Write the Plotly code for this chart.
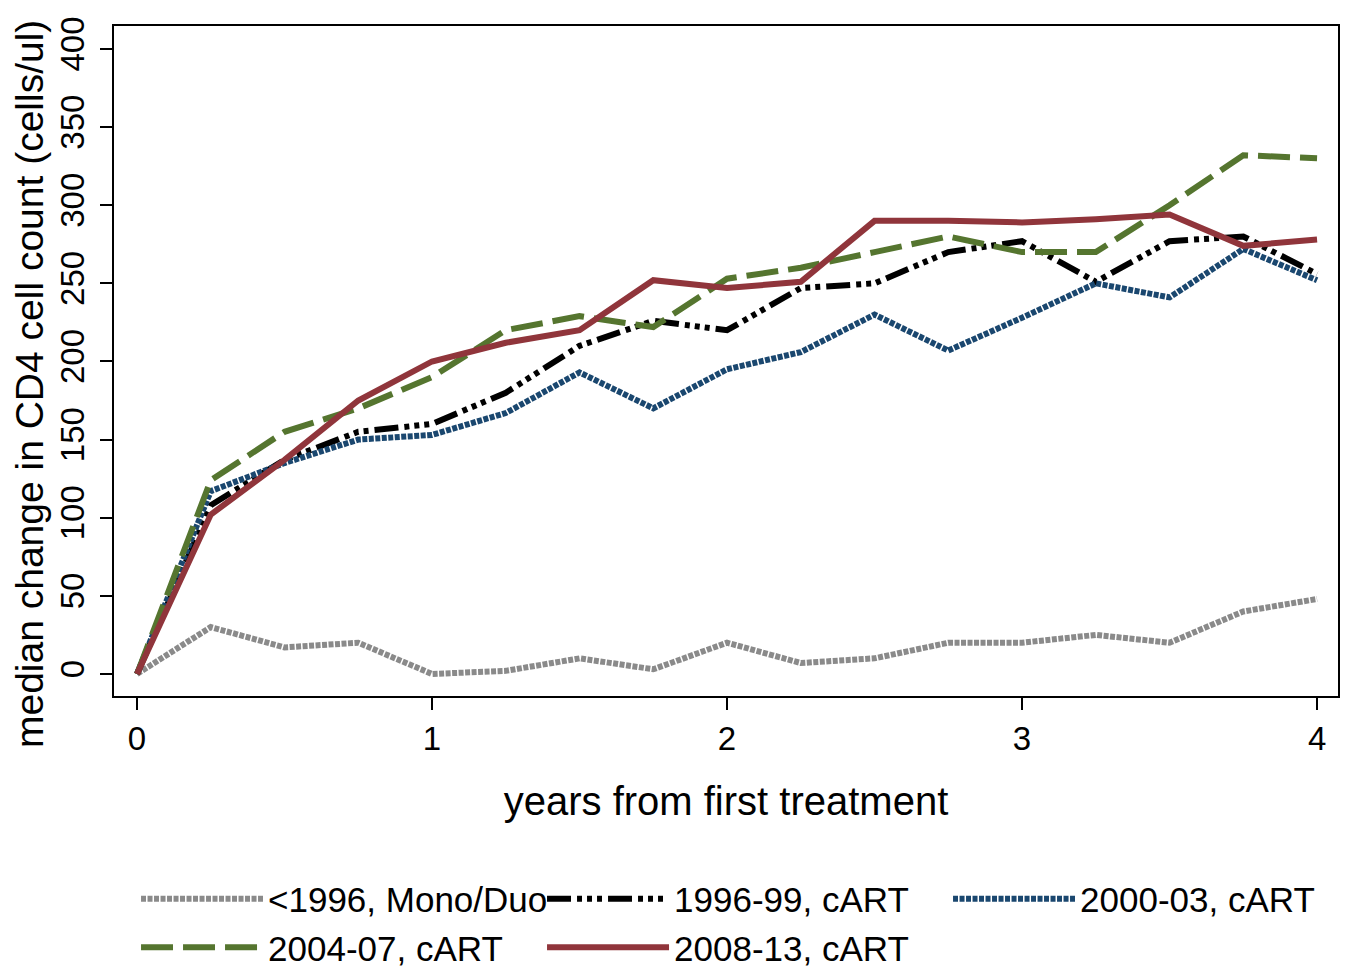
import plotly.graph_objects as go

years = [0, 0.25, 0.5, 0.75, 1.0, 1.25, 1.5, 1.75, 2.0, 2.25, 2.5, 2.75, 3.0, 3.25, 3.5, 3.75, 4.0]

mono_duo = [0, 30, 17, 20, 0, 2, 10, 3, 20, 7, 10, 20, 20, 25, 20, 40, 48]
c1996_99 = [0, 108, 137, 155, 160, 180, 210, 226, 220, 247, 250, 270, 277, 251, 277, 280, 256]
c2000_03 = [0, 117, 135, 150, 153, 167, 193, 170, 195, 206, 230, 207, 228, 250, 241, 272, 252]
c2004_07 = [0, 124, 155, 170, 190, 220, 229, 222, 253, 260, 270, 280, 270, 270, 300, 332, 330]
c2008_13 = [0, 102, 137, 175, 200, 212, 220, 252, 247, 251, 290, 290, 289, 291, 294, 274, 278]

names = ["<1996, Mono/Duo", "1996-99, cART", "2000-03, cART", "2004-07, cART", "2008-13, cART"]
series = [mono_duo, c1996_99, c2000_03, c2004_07, c2008_13]
colors = ["#8a8a8a", "#000000", "#1a476f", "#55752f", "#90353b"]
dashes = ["5px,1.5px", "24px,6px,5px,5px,5px,5px,5px,6px", "5px,1.5px", "32px,10px", "solid"]

xticks = [0, 1, 2, 3, 4]
yticks = [0, 50, 100, 150, 200, 250, 300, 350, 400]

FONT = "Liberation Sans, Arial, sans-serif"

fig = go.Figure()
for name, vals, col, dash in zip(names, series, colors, dashes):
    fig.add_trace(go.Scatter(
        x=years, y=vals, mode="lines", name=name,
        line=dict(color=col, width=6, dash=dash),
    ))

fig.update_layout(
    width=1347, height=961,
    margin=dict(l=106, r=17, t=18, b=273, autoexpand=False),
    paper_bgcolor="white", plot_bgcolor="white",
    font=dict(family=FONT, size=33, color="black"),
    showlegend=True,
    legend=dict(
        orientation="h", x=0.018, y=-0.259, xanchor="left", yanchor="top",
        font=dict(family=FONT, size=35, color="black"),
        itemwidth=122, entrywidth=269, entrywidthmode="pixels",
        traceorder="normal", tracegroupgap=0,
    ),
    annotations=[dict(
        text="median change in CD4 cell count (cells/ul)",
        xref="paper", yref="paper", x=-0.0686, y=0.4657,
        xanchor="center", yanchor="middle", textangle=-90, showarrow=False,
        font=dict(family=FONT, size=39, color="black"),
    )],
)
fig.update_xaxes(
    range=[-0.078, 4.071], tickvals=xticks, ticktext=[str(v) for v in xticks],
    showgrid=False, zeroline=False, showline=True, linecolor="black", linewidth=2,
    mirror=True, ticks="outside", ticklen=12, tickwidth=2, tickcolor="black",
    tickfont=dict(size=33),
    title=dict(text="years from first treatment", font=dict(size=40), standoff=31),
)
fig.update_yaxes(
    range=[-14.1, 414.7], tickvals=yticks, ticktext=[str(v) for v in yticks],
    showgrid=False, zeroline=False, showline=True, linecolor="black", linewidth=2,
    mirror=True, ticks="outside", ticklen=12, tickwidth=2, tickcolor="black",
    tickangle=-90, tickfont=dict(size=33), ticklabelstandoff=3,
)

fig.write_html("out.html")
